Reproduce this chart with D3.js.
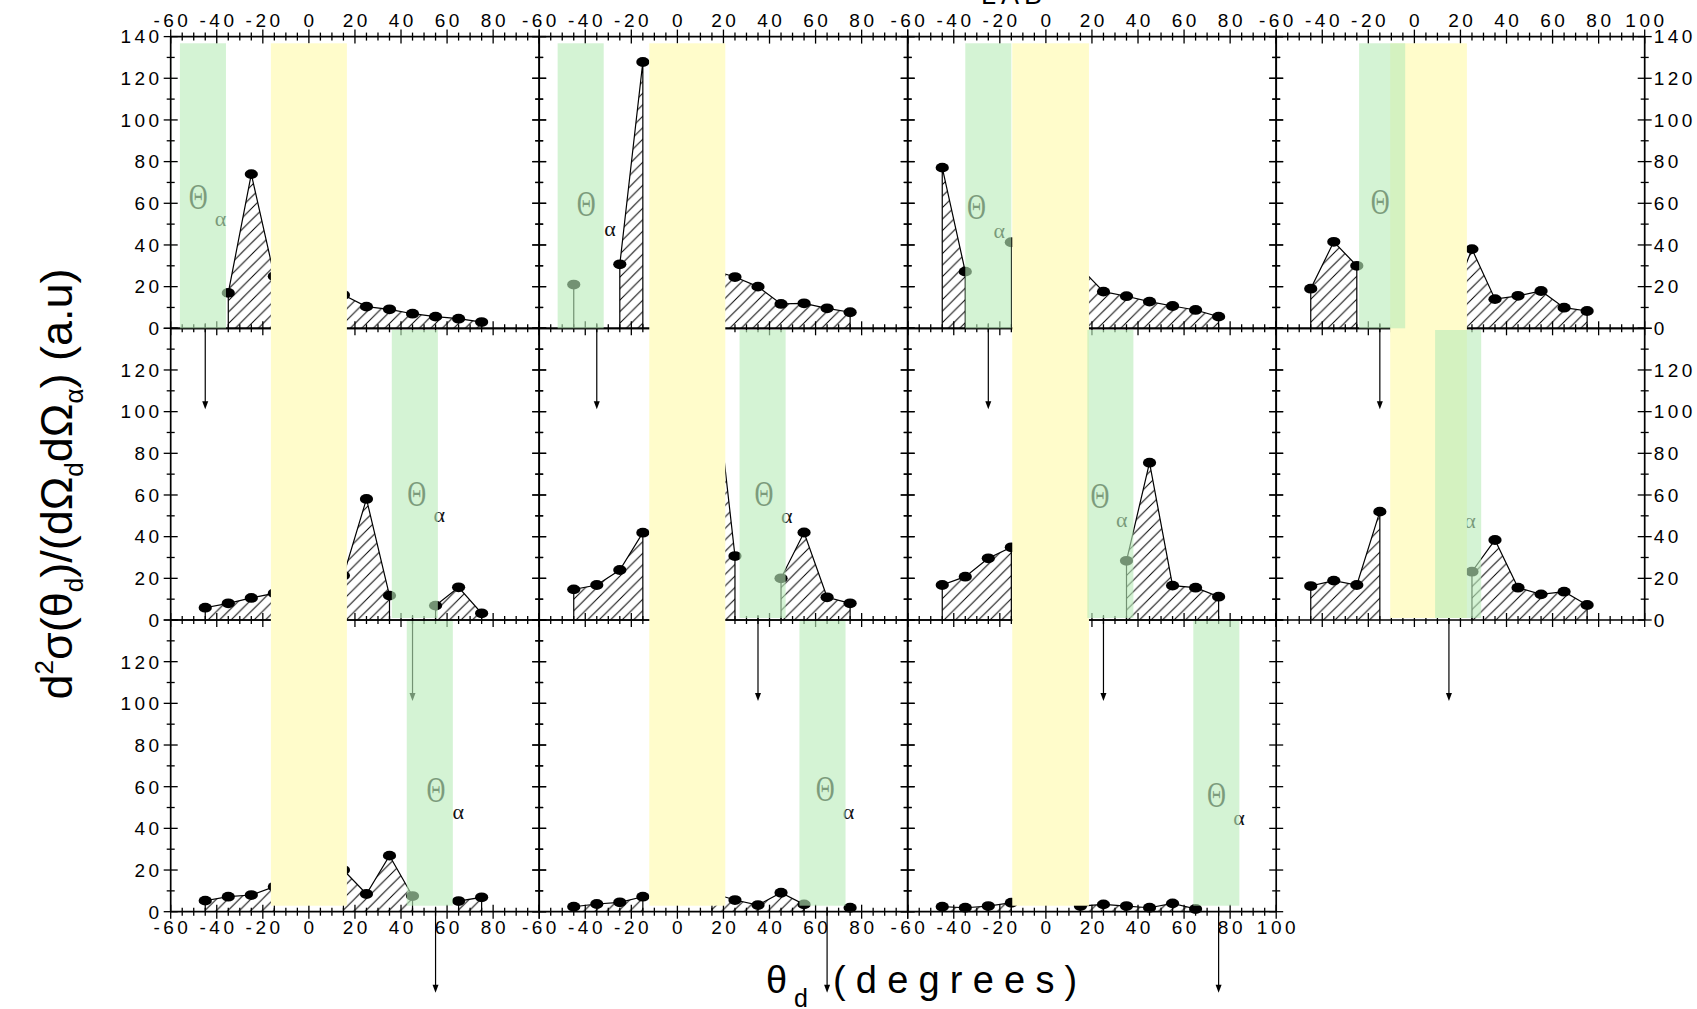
<!DOCTYPE html>
<html><head><meta charset="utf-8">
<script src="https://cdn.jsdelivr.net/npm/d3@7"></script>
<style>html,body{margin:0;padding:0;background:#fff;overflow:hidden;} svg{display:block;}</style>
</head><body>
<svg id="chart" width="1697" height="1009"></svg>
<script>
// ---------------- data ----------------
const angles = [-45,-35,-25,-15,-5,5,15,25,35,45,55,65,75];
const panel_r1c1 = [null,17,74,25,null,null,16,10.4,9.1,7,5.6,4.6,3];
const panel_r1c2 = [21,null,30.7,127.8,null,null,28,24.6,20,11.7,12,9.6,7.7];
const panel_r1c3 = [77.1,27.2,null,41.3,null,null,29,17.6,15.4,12.8,10.7,8.8,5.6];
const panel_r1c4 = [19,41.5,30,null,null,null,10,38,14,15.6,17.9,9.9,8.3];
const panel_r2c1 = [5.9,8,10.6,12.8,null,null,21.3,58.1,11.7,null,6.9,15.7,3.2];
const panel_r2c2 = [14.7,16.8,24,41.9,null,null,129,30.7,null,20,42,10.9,8];
const panel_r2c3 = [16.8,20.8,29.6,34.9,null,null,null,null,28.4,75.5,16.5,15.5,11.2];
const panel_r2c4 = [16.3,18.9,16.8,52,null,null,null,23.2,38.4,15.5,12.3,13.6,7.2];
const panel_r3c1 = [5.3,7.2,8,12,null,null,20,8.5,26.9,7.5,null,5.1,6.9];
const panel_r3c2 = [2.4,3.7,4.5,7.2,null,null,9,5.6,3.2,9.1,3.5,null,1.9];
const panel_r3c3 = [2.4,1.9,2.7,4.3,null,null,2.7,3.5,2.7,1.9,4,1.3,null];

// alpha-detector angular windows (green) per panel, beam windows (yellow) per column
const alphaBands = [[-56,-36],[-52,-32],[-35,-15],[-24,-4],[36,56],[27,47],[18,38],[9,29],[42.5,62.5],[53,73],[64,84]];
const beamBands = [[-16.5,16.5],[-12.2,20.8],[-14.6,18.7],[-10.5,22.8]];
const arrowAngles = [-45,-35,-25,-15,45,35,25,15,55,65,75];
const thetaLabelAt = [[-48.1,63],[-39.6,59.7],[-30.1,58.4],[-14.8,60.8],[46.8,60.8],[37.6,60.8],[23.5,59.7],[14.4,60],[55.2,58.4],[64.2,59.2],[74.1,55.9]];
const alphaLabelAt = [[-38.4,52.8],[-29.3,48.2],[-20.2,47.2],[-2,50],[56.6,50.9],[47.5,50.1],[32.9,48.5],[24.2,48],[64.9,48],[74.3,48.4],[83.9,45.5]];

const xTickValues = [-60,-40,-20,0,20,40,60,80,100];
const xTickLabels = ["-60","-40","-20","0","20","40","60","80","100"];
const yTickValues = [0,20,40,60,80,100,120,140];
const yTickLabels = ["0","20","40","60","80","100","120","140"];

// ---------------- layout ----------------
const colX0 = [170.7,539.2,907.7,1276.2], panelW = 368.5;
const rowBase = [328.3,620,911.7], panelH = 291.7;
const bandTop = [43.3,330,621], bandBot = [328.3,618,905.7];
const FONT = "'Liberation Sans', Arial, sans-serif";

const svg = d3.select('#chart');
const defs = svg.append('defs');
const hs = 11.5;
const hp = defs.append('pattern').attr('id','hatch').attr('patternUnits','userSpaceOnUse')
  .attr('width',hs).attr('height',hs);
hp.append('path').attr('d',`M-2,2L2,-2M0,${hs}L${hs},0M${hs-2},${hs+2}L${hs+2},${hs-2}`)
  .attr('stroke','#000').attr('stroke-width',1);

const panelValues = [panel_r1c1,panel_r1c2,panel_r1c3,panel_r1c4,panel_r2c1,panel_r2c2,panel_r2c3,panel_r2c4,panel_r3c1,panel_r3c2,panel_r3c3];
const panels = panelValues.map((vals,i)=>{
  const row = Math.floor(i/4), col = i%4;
  const x = d3.scaleLinear().domain([-60,100]).range([colX0[col], colX0[col]+panelW]);
  const y = d3.scaleLinear().domain([0,140]).range([rowBase[row], rowBase[row]-panelH]);
  return {i,row,col,vals,x,y};
});

const gData = svg.append('g');
const gAxes = svg.append('g');
const gArrows = svg.append('g');
const gLabels = svg.append('g');
const gBeam = svg.append('g');
const gAlpha = svg.append('g');
const gText = svg.append('g');

panels.forEach(p=>{
  const {x,y,vals} = p;
  const segs=[]; let cur=[];
  angles.forEach((a,k)=>{ const v=vals[k]; if(v==null){ if(cur.length) segs.push(cur); cur=[]; } else cur.push([a,v]); });
  if(cur.length) segs.push(cur);
  const area = d3.area().x(d=>x(d[0])).y0(y(0)).y1(d=>y(d[1]));
  const line = d3.line().x(d=>x(d[0])).y(d=>y(d[1]));
  segs.forEach(seg=>{
    if(seg.length>1) gData.append('path').attr('d',area(seg)).attr('fill','url(#hatch)');
    const outline = [[seg[0][0],0],...seg,[seg[seg.length-1][0],0]];
    gData.append('path').attr('d',line(outline)).attr('fill','none').attr('stroke','#000').attr('stroke-width',1.2);
  });
  angles.forEach((a,k)=>{ const v=vals[k]; if(v==null) return;
    gData.append('ellipse').attr('cx',x(a)).attr('cy',y(v)).attr('rx',6.6).attr('ry',4.9).attr('fill','#000');
  });

  const x0=x.range()[0], x1=x.range()[1], yb=y(0), yt=y(140);
  const fr = gAxes.append('g').attr('stroke','#000').attr('fill','none');
  fr.append('line').attr('x1',x0).attr('x2',x1).attr('y1',yb).attr('y2',yb).attr('stroke-width',1.7);
  fr.append('line').attr('x1',x0).attr('x2',x1).attr('y1',yt).attr('y2',yt).attr('stroke-width',1.7);
  fr.append('line').attr('x1',x0).attr('x2',x0).attr('y1',yt).attr('y2',yb).attr('stroke-width',1.7);
  fr.append('line').attr('x1',x1).attr('x2',x1).attr('y1',yt).attr('y2',yb).attr('stroke-width',1.7);
  const majorX = x.ticks(8), minorX = x.ticks(32);
  const majorY = y.ticks(7), minorY = y.ticks(14);
  const hLines = p.row===0 ? [yb,yt] : [yb];
  hLines.forEach(yy=>{
    minorX.forEach(t=>{ const L = majorX.includes(t)?7:4;
      fr.append('line').attr('x1',x(t)).attr('x2',x(t)).attr('y1',yy-L).attr('y2',yy+L).attr('stroke-width',1.3);
    });
  });
  [x0,x1].forEach(xx=>{
    minorY.forEach(t=>{ const L = majorY.includes(t)?7:4;
      fr.append('line').attr('x1',xx-L).attr('x2',xx+L).attr('y1',y(t)).attr('y2',y(t)).attr('stroke-width',1.3);
    });
  });

  const ax = x(arrowAngles[p.i]);
  gArrows.append('line').attr('x1',ax).attr('x2',ax).attr('y1',yb-5).attr('y2',yb+74).attr('stroke','#000').attr('stroke-width',1.2);
  gArrows.append('path').attr('d',`M${ax-3},${yb+73}L${ax+3},${yb+73}L${ax},${yb+81}Z`).attr('fill','#000');

  const th = thetaLabelAt[p.i], al = alphaLabelAt[p.i];
  gLabels.append('text').attr('transform',`translate(${x(th[0])},${y(th[1])}) scale(0.75,1)`)
    .attr('text-anchor','middle').attr('dy','0.35em')
    .attr('font-family',"'Liberation Serif', serif").attr('font-size',35).attr('fill','#1a1a1a').text('Θ');
  gLabels.append('text').attr('x',x(al[0])).attr('y',y(al[1])).attr('dy','0.35em')
    .attr('text-anchor','middle').attr('font-family',"'Liberation Serif', serif").attr('font-size',22).attr('fill','#111').text('α');

  const b = alphaBands[p.i];
  gAlpha.append('rect').attr('x',x(b[0])).attr('width',x(b[1])-x(b[0]))
    .attr('y',bandTop[p.row]).attr('height',bandBot[p.row]-bandTop[p.row])
    .attr('fill','#baecba').attr('fill-opacity',0.62);
});

beamBands.forEach((b,c)=>{
  const x = d3.scaleLinear().domain([-60,100]).range([colX0[c], colX0[c]+panelW]);
  const bottom = c<3 ? bandBot[2] : bandBot[1];
  gBeam.append('rect').attr('x',x(b[0])).attr('width',x(b[1])-x(b[0]))
    .attr('y',bandTop[0]).attr('height',bottom-bandTop[0]).attr('fill','#fffccb');
});

// ---------------- tick labels ----------------
const LS = 3.5, FS = 19;
function tlabel(xx,yy,txt,anchor){
  const t = gText.append('text').attr('x',xx).attr('y',yy).attr('font-family',FONT).attr('font-size',FS)
    .attr('letter-spacing',LS).attr('text-anchor',anchor).attr('fill','#000').text(txt);
  if(anchor==='middle') t.attr('dx',LS/2);
  return t;
}
colX0.forEach((cx,c)=>{
  const x = d3.scaleLinear().domain([-60,100]).range([cx,cx+panelW]);
  xTickValues.forEach((v,k)=>{ if(v===100 && c<3) return; tlabel(x(v),27,xTickLabels[k],'middle'); });
});
[0,1,2].forEach(c=>{
  const x = d3.scaleLinear().domain([-60,100]).range([colX0[c],colX0[c]+panelW]);
  xTickValues.forEach((v,k)=>{ if(v===100 && c<2) return; tlabel(x(v),934,xTickLabels[k],'middle'); });
});
rowBase.forEach((rb,r)=>{
  const y = d3.scaleLinear().domain([0,140]).range([rb,rb-panelH]);
  yTickValues.forEach((v,k)=>{
    if(v===140 && r>0) return;
    tlabel(colX0[0]-8,y(v),yTickLabels[k],'end').attr('dy','0.36em');
    if(r<2) tlabel(colX0[3]+panelW+9,y(v),yTickLabels[k],'start').attr('dy','0.36em');
  });
});

gText.append('text').attr('x',981).attr('y',3.5).attr('font-family',FONT).attr('font-size',27)
  .attr('letter-spacing',5).text('LAB');

const yt = gText.append('text').attr('transform','translate(72,484) rotate(-90)')
  .attr('text-anchor','middle').attr('font-family',FONT).attr('font-size',45).attr('fill','#000');
yt.append('tspan').text('d');
yt.append('tspan').attr('font-size',26).attr('dy',-19).text('2');
yt.append('tspan').attr('dy',19).text('σ(θ');
yt.append('tspan').attr('font-size',26).attr('dy',11).text('d');
yt.append('tspan').attr('dy',-11).text(')/(dΩ');
yt.append('tspan').attr('font-size',26).attr('dy',11).text('d');
yt.append('tspan').attr('dy',-11).text('dΩ');
yt.append('tspan').attr('font-size',26).attr('dy',11).text('α');
yt.append('tspan').attr('dy',-11).text(') (a.u)');

gText.append('text').attr('x',766).attr('y',993).attr('font-family',FONT).attr('font-size',38).text('θ');
gText.append('text').attr('x',794).attr('y',1007).attr('font-family',FONT).attr('font-size',25).text('d');
gText.append('text').attr('x',833).attr('y',993).attr('font-family',FONT).attr('font-size',38)
  .attr('letter-spacing',10.2).text('(degrees)');
</script>
</body></html>
